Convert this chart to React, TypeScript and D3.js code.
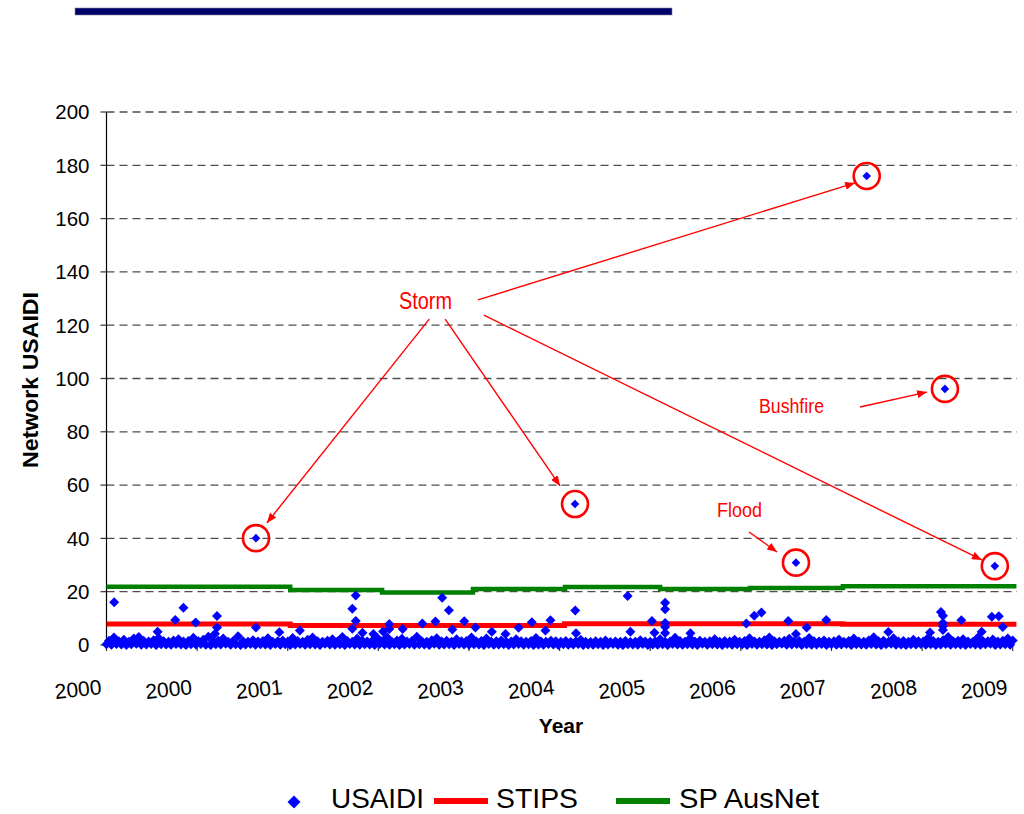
import React from "react";
import * as d3 from "d3";

// ---------- data ----------
const yTicks = [0, 20, 40, 60, 80, 100, 120, 140, 160, 180, 200];
const xTickDays = [0, 365, 730, 1095, 1460, 1825, 2190, 2555, 2920, 3285, 3650];
const xTickLabels = ["2000", "2000", "2001", "2002", "2003", "2004", "2005", "2006", "2007", "2008", "2009"];

// dense daily USAIDI band, sampled every 20 days (low and high members of each period)
const bandStepDays = 20;
const bandLow = [
  0.3, 0.1, 0.4, 0.2, 0.0, 0.3, 0.5, 0.1, 0.2, 0.4, 0.0, 0.3, 0.2, 0.1, 0.4, 0.2, 0.0, 0.3,
  0.2, 0.4, 0.1, 0.0, 0.3, 0.2, 0.5, 0.1, 0.3, 0.0, 0.2, 0.4, 0.1, 0.3, 0.2, 0.0, 0.4, 0.1,
  0.3, 0.0, 0.2, 0.4, 0.1, 0.3, 0.2, 0.0, 0.5, 0.2, 0.1, 0.3, 0.0, 0.4, 0.2, 0.1, 0.3, 0.2, 0.0,
  0.4, 0.2, 0.1, 0.3, 0.0, 0.2, 0.4, 0.1, 0.3, 0.2, 0.0, 0.5, 0.1, 0.2, 0.3, 0.0, 0.4, 0.2,
  0.1, 0.3, 0.2, 0.0, 0.4, 0.1, 0.2, 0.3, 0.0, 0.2, 0.4, 0.1, 0.3, 0.0, 0.2, 0.1, 0.4, 0.2,
  0.0, 0.3, 0.1, 0.2, 0.4, 0.0, 0.2, 0.1, 0.3, 0.0, 0.2, 0.4, 0.1, 0.0, 0.3, 0.2, 0.1, 0.4, 0.0,
  0.2, 0.1, 0.3, 0.0, 0.4, 0.2, 0.1, 0.3, 0.2, 0.0, 0.5, 0.1, 0.3, 0.2, 0.0, 0.4, 0.1, 0.3,
  0.2, 0.0, 0.4, 0.1, 0.3, 0.2, 0.0, 0.3, 0.5, 0.1, 0.2, 0.4, 0.0, 0.3, 0.1, 0.2, 0.4, 0.0,
  0.3, 0.1, 0.2, 0.4, 0.0, 0.3, 0.2, 0.1, 0.4, 0.2, 0.0, 0.3, 0.5, 0.1, 0.2, 0.0, 0.3, 0.2, 0.4,
  0.1, 0.3, 0.0, 0.2, 0.4, 0.1, 0.3, 0.2, 0.0, 0.4, 0.2, 0.1, 0.3, 0.5, 0.0, 0.2, 0.3, 0.1,
];
const bandHigh = [
  1.6, 2.8, 1.4, 2.0, 1.2, 2.4, 3.0, 1.5, 1.3, 1.8, 2.6, 1.4, 1.2, 1.7, 2.2, 1.3, 1.5, 2.7,
  1.4, 2.0, 3.1, 1.3, 1.6, 2.4, 1.2, 1.5, 3.3, 1.4, 1.2, 1.8, 1.3, 1.5, 2.5, 1.2, 1.4, 1.7,
  1.3, 2.6, 1.5, 1.2, 2.0, 2.8, 1.4, 1.2, 1.6, 2.2, 1.3, 3.0, 1.5, 1.2, 2.4, 1.7, 1.3, 1.5, 2.7,
  1.4, 2.9, 1.2, 1.7, 2.3, 1.3, 1.5, 3.1, 1.4, 1.2, 1.8, 2.5, 1.3, 1.6, 1.2, 2.2, 1.4, 1.5,
  2.8, 1.3, 1.5, 2.4, 1.2, 1.4, 1.7, 1.2, 1.3, 2.2, 1.4, 1.2, 1.5, 2.6, 1.3, 1.2, 1.6, 1.4,
  1.2, 1.5, 1.1, 1.3, 2.0, 1.2, 1.1, 1.4, 1.2, 1.7, 1.1, 1.3, 1.2, 1.5, 1.1, 1.2, 1.8, 1.3, 1.2,
  1.4, 2.2, 1.2, 1.3, 2.7, 1.5, 1.2, 2.4, 1.3, 1.6, 1.2, 1.4, 2.2, 1.2, 1.5, 1.3, 2.0, 1.2,
  1.5, 2.5, 1.3, 1.2, 1.8, 2.8, 1.4, 1.2, 1.6, 2.3, 1.3, 1.5, 1.2, 2.6, 1.4, 1.3, 1.7, 1.2,
  1.4, 2.1, 1.2, 1.5, 2.4, 1.3, 1.2, 1.7, 2.9, 1.4, 1.6, 1.2, 2.5, 1.3, 1.5, 1.2, 2.0, 1.4, 1.3,
  2.7, 1.5, 1.2, 1.8, 3.0, 1.4, 1.6, 2.2, 1.3, 1.2, 2.8, 1.5, 1.4, 2.1, 1.3, 1.6, 2.4, 1.7,
];

// visible USAIDI days above the band
const outlierDays = [
  31, 206, 277, 310, 359, 445, 445, 437, 602, 696, 779, 990, 1004, 1004, 990, 1031, 1075, 1114,
  1139, 1139, 1193, 1272, 1325, 1352, 1379, 1393, 1441, 1486, 1552, 1607, 1660, 1713, 1768, 1788,
  1888, 1891, 2099, 2110, 2197, 2207, 2250, 2250, 2250, 2250, 2250, 2352, 2577, 2609, 2638, 2746,
  2777, 2820, 2899, 3149, 3317, 3361, 3369, 3369, 3369, 3369, 3443, 3525, 3566, 3594, 3610,
];
const outlierValues = [
  16.0, 5.0, 9.4, 14.0, 8.4, 10.9, 6.6, 4.2, 6.6, 4.8, 5.4, 13.6, 18.6, 9.0, 6.1, 4.6, 4.1, 5.1,
  7.9, 6.0, 6.0, 8.1, 8.8, 17.7, 13.0, 5.8, 8.9, 6.6, 5.0, 4.1, 6.5, 8.5, 5.4, 9.3,
  12.9, 4.4, 18.4, 5.0, 9.0, 4.6, 15.9, 13.4, 8.3, 6.8, 4.5, 4.4, 8.1, 11.0, 12.2, 9.0,
  4.1, 6.6, 9.4, 4.9, 4.7, 12.4, 11.0, 8.3, 7.0, 5.6, 9.3, 5.0, 10.6, 10.8, 6.8,
];

// major event days (circled)
const eventDays = [602, 1887, 2777, 3062, 3377, 3578];
const eventValues = [40.1, 52.9, 30.9, 176.0, 96.1, 29.6];

// STIPS and SP AusNet step series: start day of each step and its value
const stipsDays = [0, 740, 1845, 2965, 3665];
const stipsValues = [7.9, 7.3, 8.0, 7.8, 7.8];
const ausnetDays = [0, 740, 1110, 1476, 1847, 2230, 2592, 2966, 3665];
const ausnetValues = [21.9, 20.6, 19.7, 21.0, 21.8, 21.0, 21.4, 22.0, 22.0];

// annotations in data units
const noteTexts = ["Storm", "Bushfire", "Flood"];
const noteDays = [1285, 2759, 2550];
const noteValues = [126.1, 87.1, 48.0];
const arrowFrom: [number, number][] = [
  [1300, 122.3], [1364, 122.3], [1496, 129.5], [1520, 123.8], [3035, 89.3], [2588, 42.4],
];
const arrowTo: [number, number][] = [
  [646, 45.8], [1827, 59.7], [3015, 173.4], [3526, 31.9], [3305, 94.9], [2701, 34.9],
];

const legendItems = ["USAIDI", "STIPS", "SP AusNet"];

// ---------- styles ----------
const FONT = "'Liberation Sans', Arial, Helvetica, sans-serif";
const NARROW = "'Liberation Sans Narrow', 'Arial Narrow', 'Liberation Sans', Arial, sans-serif";
const BLUE = "#0000ff";
const RED = "#ff0000";
const GREEN = "#008000";
const noteStyle: Record<string, { size: number; len: number }> = {
  Storm: { size: 24, len: 53 },
  Bushfire: { size: 20, len: 65 },
  Flood: { size: 20, len: 45 },
};

const diamond = (r: number) => `M0,${-r}L${r},0L0,${r}L${-r},0Z`;

export default function App() {
  const W = 1024;
  const H = 814;
  const x = d3.scaleLinear().domain([0, 3650]).range([106.5, 1012.7]);
  const y = d3.scaleLinear().domain([0, 200]).range([645, 112]);
  const plotRight = 1017;

  const step = d3
    .line<[number, number]>()
    .x((d) => x(d[0]))
    .y((d) => y(d[1]))
    .curve(d3.curveStepAfter);

  const stips = stipsDays.map((d, i) => [d, stipsValues[i]] as [number, number]);
  const ausnet = ausnetDays.map((d, i) => [d, ausnetValues[i]] as [number, number]);

  const points: [number, number][] = [];
  bandLow.forEach((v, i) => points.push([i * bandStepDays, v]));
  bandHigh.forEach((v, i) => points.push([i * bandStepDays + bandStepDays / 2, v]));
  outlierDays.forEach((d, i) => points.push([d, outlierValues[i]]));

  return (
    <svg
      width={W}
      height={H}
      viewBox={`0 0 ${W} ${H}`}
      style={{ position: "absolute", left: 0, top: 0, display: "block", background: "#fff" }}
    >
      <defs>
        <marker
          id="arrow"
          markerUnits="userSpaceOnUse"
          markerWidth={10}
          markerHeight={8}
          refX={10}
          refY={4}
          orient="auto"
        >
          <path d="M0,0L10,4L0,8Z" fill={RED} />
        </marker>
      </defs>
      <rect width={W} height={H} fill="#fff" />

      {/* title bar */}
      <rect x={75} y={8} width={597} height={7} fill="#000066" stroke="#8080b0" strokeWidth={0.6} />

      {/* gridlines */}
      {yTicks
        .filter((t) => t > 0)
        .map((t) => (
          <line
            key={"g" + t}
            x1={x(0)}
            x2={plotRight}
            y1={y(t)}
            y2={y(t)}
            stroke="#4d4d4d"
            strokeWidth={1.3}
            strokeDasharray="8,5"
          />
        ))}

      {/* y axis */}
      <line x1={x(0)} x2={x(0)} y1={y(200)} y2={y(0)} stroke="#000" strokeWidth={1.2} />
      {yTicks.map((t) => (
        <g key={"yt" + t}>
          <line x1={x(0) - 6} x2={x(0)} y1={y(t)} y2={y(t)} stroke="#333" strokeWidth={1.2} />
          <text
            x={89.5}
            y={y(t)}
            dy="0.36em"
            textAnchor="end"
            fontFamily={FONT}
            fontSize={20.5}
            fill="#000"
          >
            {t}
          </text>
        </g>
      ))}

      {/* x axis */}
      <line x1={x(0)} x2={x(3650)} y1={y(0)} y2={y(0)} stroke="#000" strokeWidth={1.2} />
      {xTickDays.map((d, i) => (
        <g key={"xt" + i}>
          <line x1={x(d)} x2={x(d)} y1={y(0)} y2={y(0) + 6} stroke="#333" strokeWidth={1.2} />
          <text
            transform={`translate(${x(d) - 4.5},694) rotate(-6)`}
            textAnchor="end"
            fontFamily={FONT}
            fontSize={21}
            fill="#000"
          >
            {xTickLabels[i]}
          </text>
        </g>
      ))}

      {/* axis titles */}
      <text x={561} y={733} textAnchor="middle" fontFamily={FONT} fontWeight="bold" fontSize={21} fill="#000">
        Year
      </text>
      <text
        transform="translate(38,380) rotate(-90)"
        textAnchor="middle"
        fontFamily={FONT}
        fontWeight="bold"
        fontSize={22}
        textLength={176}
        lengthAdjust="spacingAndGlyphs"
        fill="#000"
      >
        Network USAIDI
      </text>

      {/* series lines */}
      <path d={step(stips) || ""} fill="none" stroke={RED} strokeWidth={5} />
      <path d={step(ausnet) || ""} fill="none" stroke={GREEN} strokeWidth={4.5} />

      {/* USAIDI points */}
      {points.map((p, i) => (
        <path key={"p" + i} d={diamond(5)} transform={`translate(${x(p[0])},${y(p[1])})`} fill={BLUE} />
      ))}
      {eventDays.map((d, i) => (
        <path key={"e" + i} d={diamond(4.3)} transform={`translate(${x(d)},${y(eventValues[i])})`} fill={BLUE} />
      ))}

      {/* event circles */}
      {eventDays.map((d, i) => (
        <circle
          key={"c" + i}
          cx={x(d)}
          cy={y(eventValues[i])}
          r={13}
          fill="none"
          stroke={RED}
          strokeWidth={2.6}
        />
      ))}

      {/* arrows */}
      {arrowFrom.map((f, i) => (
        <line
          key={"a" + i}
          x1={x(f[0])}
          y1={y(f[1])}
          x2={x(arrowTo[i][0])}
          y2={y(arrowTo[i][1])}
          stroke={RED}
          strokeWidth={1.4}
          markerEnd="url(#arrow)"
        />
      ))}

      {/* annotation labels */}
      {noteTexts.map((t, i) => (
        <text
          key={"n" + i}
          x={x(noteDays[i])}
          y={y(noteValues[i])}
          textAnchor="middle"
          fontFamily={NARROW}
          fontSize={noteStyle[t].size}
          textLength={noteStyle[t].len}
          lengthAdjust="spacingAndGlyphs"
          fill={RED}
        >
          {t}
        </text>
      ))}

      {/* legend */}
      <g fontFamily={FONT} fontSize={27} fill="#000">
        <path d={diamond(6.5)} transform="translate(294,802)" fill={BLUE} />
        <text x={331} y={808} textLength={93} lengthAdjust="spacingAndGlyphs">
          {legendItems[0]}
        </text>
        <line x1={434} x2={488} y1={801} y2={801} stroke={RED} strokeWidth={6} />
        <text x={496} y={808} textLength={82} lengthAdjust="spacingAndGlyphs">
          {legendItems[1]}
        </text>
        <line x1={616} x2={670} y1={801} y2={801} stroke={GREEN} strokeWidth={6} />
        <text x={679} y={808} textLength={140} lengthAdjust="spacingAndGlyphs">
          {legendItems[2]}
        </text>
      </g>
    </svg>
  );
}
